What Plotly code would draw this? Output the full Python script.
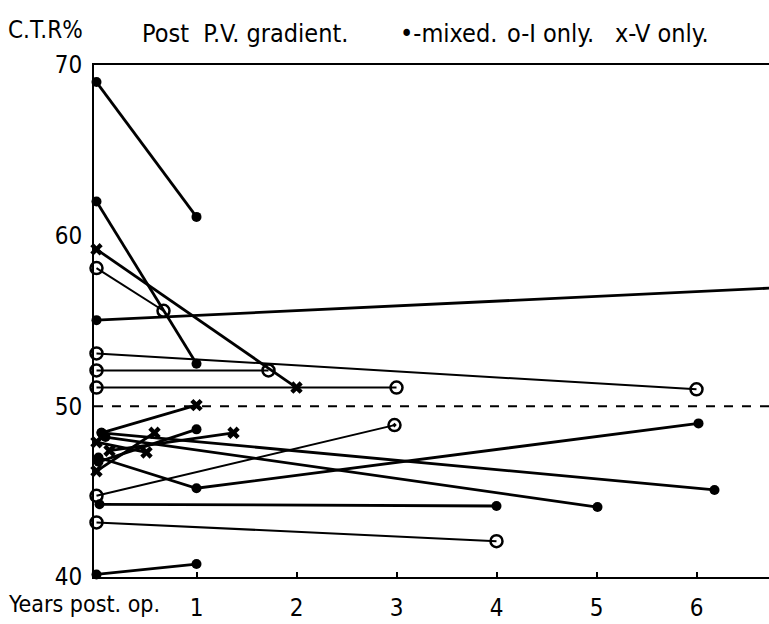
import plotly.graph_objects as go

# ---- data (years post-op, C.T.R %, gradient type at each visit) ----
# M = mixed (filled dot), I = I only (open circle), V = V only (x), D = open circle with dot
p1_x = [0, 1];        p1_y = [69.0, 61.1];  p1_t = ["M", "M"]
p2_x = [0, 1];        p2_y = [62.0, 52.5];  p2_t = ["M", "M"]
p3_x = [0, 7];        p3_y = [55.05, 57.0]; p3_t = ["M", "M"]
p4_x = [0.05, 6.18];  p4_y = [48.45, 45.1]; p4_t = ["M", "M"]
p5_x = [0.09, 5.01];  p5_y = [48.2, 44.1];  p5_t = ["M", "M"]
p6_x = [0.02, 1, 6.02]; p6_y = [47.0, 45.2, 49.0]; p6_t = ["M", "M", "M"]
p7_x = [0.02, 1];     p7_y = [46.75, 48.65]; p7_t = ["M", "M"]
p8_x = [0.03, 4];     p8_y = [44.26, 44.16]; p8_t = ["M", "M"]
p9_x = [0, 1];        p9_y = [40.15, 40.76]; p9_t = ["M", "M"]
p10_x = [0, 0.67];    p10_y = [58.1, 55.6];  p10_t = ["I", "I"]
p11_x = [0, 6.0];     p11_y = [53.1, 51.0];  p11_t = ["I", "I"]
p12_x = [0, 1.72];    p12_y = [52.1, 52.1];  p12_t = ["I", "I"]
p13_x = [0, 3];       p13_y = [51.1, 51.1];  p13_t = ["I", "I"]
p14_x = [0, 2.98];    p14_y = [44.76, 48.9]; p14_t = ["I", "D"]
p15_x = [0, 4];       p15_y = [43.2, 42.1];  p15_t = ["I", "I"]
p16_x = [0, 2];       p16_y = [59.2, 51.1];  p16_t = ["V", "V"]
p17_x = [0.05, 1];    p17_y = [48.45, 50.07]; p17_t = ["M", "V"]
p18_x = [0, 0.58];    p18_y = [46.2, 48.45]; p18_t = ["V", "V"]
p19_x = [0.13, 1.37]; p19_y = [47.4, 48.45]; p19_t = ["V", "V"]
p20_x = [0, 0.5];     p20_y = [47.9, 47.3];  p20_t = ["V", "V"]

patients = [
    (p1_x, p1_y, p1_t), (p2_x, p2_y, p2_t), (p3_x, p3_y, p3_t), (p4_x, p4_y, p4_t),
    (p5_x, p5_y, p5_t), (p6_x, p6_y, p6_t), (p7_x, p7_y, p7_t), (p8_x, p8_y, p8_t),
    (p9_x, p9_y, p9_t), (p10_x, p10_y, p10_t), (p11_x, p11_y, p11_t),
    (p12_x, p12_y, p12_t), (p13_x, p13_y, p13_t), (p14_x, p14_y, p14_t),
    (p15_x, p15_y, p15_t), (p16_x, p16_y, p16_t), (p17_x, p17_y, p17_t),
    (p18_x, p18_y, p18_t), (p19_x, p19_y, p19_t), (p20_x, p20_y, p20_t),
]

x_ticks = [1, 2, 3, 4, 5, 6]
y_ticks = [40, 50, 60, 70]
normal_ctr = 50
x_axis_label = "Years post. op."

sym_map = {"M": "circle", "I": "circle-open", "V": "x", "D": "circle-open-dot"}
size_map = {"M": 10, "I": 12, "V": 11, "D": 12}
lw_map = {"M": 0, "I": 2.5, "V": 0, "D": 2.5}

FONT = "DejaVu Sans Condensed, DejaVu Sans, sans-serif"

fig = go.Figure()
for xs, ys, ts in patients:
    width = 2.0 if ts[0] == "I" else 2.8
    fig.add_trace(go.Scatter(
        x=xs, y=ys, mode="lines+markers",
        line=dict(color="black", width=width),
        marker=dict(symbol=[sym_map[t] for t in ts], size=[size_map[t] for t in ts],
                    color="black", opacity=1,
                    line=dict(color="black", width=[lw_map[t] for t in ts])),
        cliponaxis=False, showlegend=False, hoverinfo="skip",
    ))

fig.add_shape(type="line", xref="paper", x0=0, x1=1, yref="y", y0=normal_ctr, y1=normal_ctr,
              line=dict(color="black", width=2, dash="dash"))

L, T, B = 94, 65, 47
W, H = 769, 624
pw, ph = W - L, H - T - B

def px(xp):
    return (xp - L) / pw

def py(yp):
    return (H - B - yp) / ph

ann = [
    ("C.T.R%", 6, 30, 24),
    ("Post  P.V. gradient.", 140, 33, 25),
    ("•-mixed.", 398, 33, 25),
    ("o-I only.", 505, 33, 25),
    ("x-V only.", 613, 33, 25),
    (x_axis_label, 6, 604, 23),
]
for text, xp, yp, sz in ann:
    fig.add_annotation(text=text, xref="paper", yref="paper", x=px(xp), y=py(yp),
                       xanchor="left", yanchor="middle", showarrow=False,
                       font=dict(family=FONT, size=sz, color="black"))

fig.update_layout(
    width=W, height=H,
    margin=dict(l=L, r=0, t=T, b=B),
    plot_bgcolor="white", paper_bgcolor="white",
    font=dict(family=FONT, size=24, color="black"),
    xaxis=dict(range=[-0.025, -0.025 + pw / 100], tickvals=x_ticks,
               ticktext=[str(v) for v in x_ticks],
               showgrid=False, zeroline=False, showline=True, linecolor="black",
               linewidth=2, mirror=True, ticks="inside", ticklen=5, tickwidth=2,
               tickcolor="black", ticklabelstandoff=8),
    yaxis=dict(range=[40, 70], tickvals=y_ticks, ticktext=[str(v) for v in y_ticks],
               showgrid=False, zeroline=False, showline=True, linecolor="black",
               linewidth=2, ticks="", ticklabelstandoff=5),
)

fig.write_html("out.html")
